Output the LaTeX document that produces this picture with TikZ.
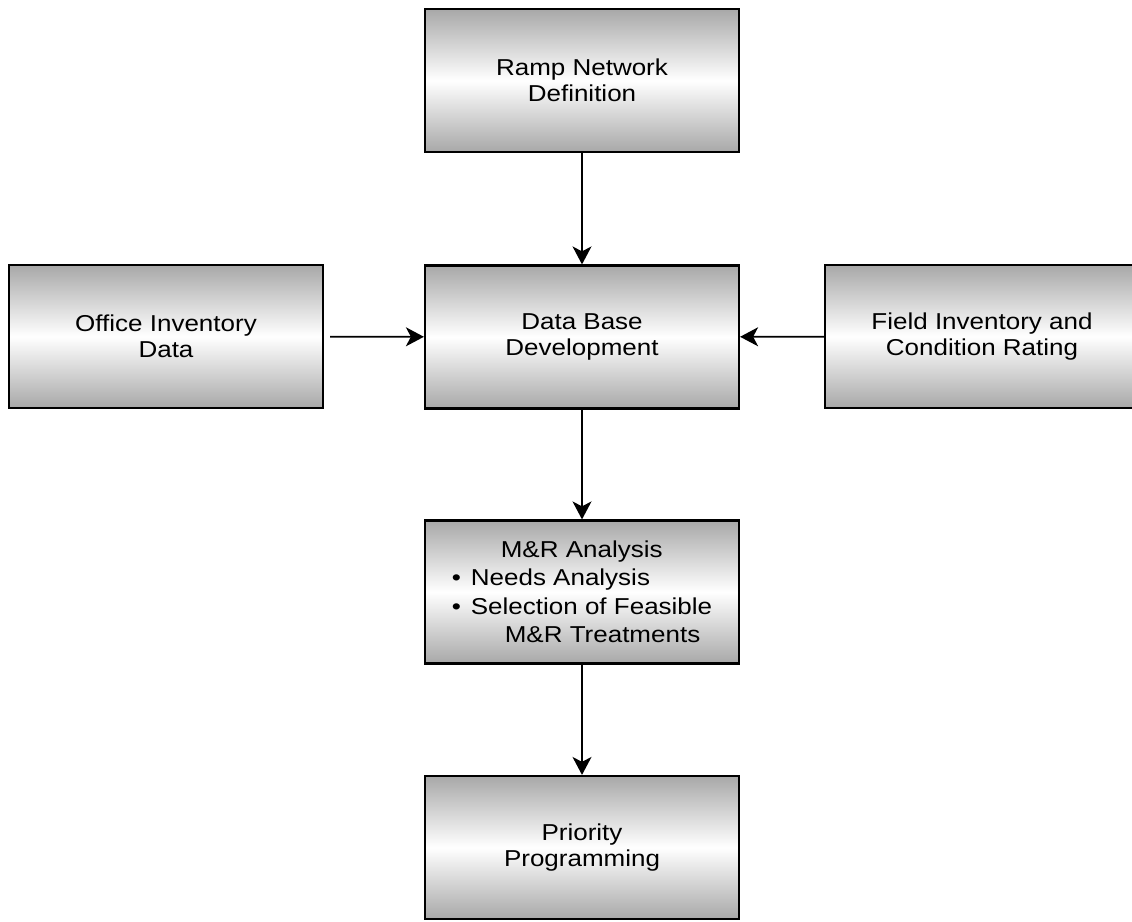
\documentclass[tikz,border=0pt]{standalone}
\usepackage{fontspec}
\setmainfont{Liberation Sans}[FakeStretch=1.13]
\usepackage{tikz}
\usetikzlibrary{arrows.meta}
\definecolor{boxgray}{RGB}{168,168,168}
\tikzset{
  stagebox/.style={draw=black, line width=2.2pt, top color=boxgray, bottom color=boxgray, middle color=white,
    minimum width=314pt, minimum height=143pt, inner sep=0pt, align=center,
    font=\fontsize{23}{26.5}\selectfont},
  flow/.style={line width=1.6pt, -{Stealth[length=18pt, width=19pt, inset=5pt]}}
}

\begin{document}
\begin{tikzpicture}[x=1pt, y=-1pt]
		\useasboundingbox (0,0) rectangle (1132,921);
		\node[stagebox] (ramp) at (582,80.5) {Ramp Network\\Definition};
		\node[stagebox] (db) at (582,337) {Data Base\\Development};
		\node[stagebox] (office) at (166,336.5) {Office Inventory\\Data};
		\node[stagebox] (field) at (982,336.5) {Field Inventory and\\Condition Rating};
		\node[stagebox, align=left, font=\fontsize{23}{28.5}\selectfont] (mr) at (582,592) {\hspace*{49pt}M\&R Analysis\\
			•\hspace{10pt}Needs Analysis\\
			•\hspace{10pt}Selection of Feasible\\
			\hspace*{53pt}M\&R Treatments};
		\node[stagebox] (prio) at (582,847.5) {Priority\\Programming};
		\draw[flow] (ramp) -- (db);
		\draw[flow, shorten <=6pt] (office) -- (db);
		\draw[flow] (field) -- (db);
		\draw[flow] (db) -- (mr);
		\draw[flow] (mr) -- (prio);
	\end{tikzpicture}
\end{document}
